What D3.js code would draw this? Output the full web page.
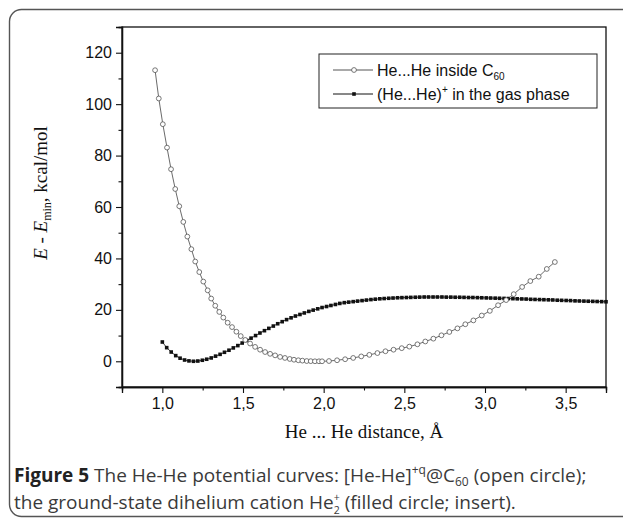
<!DOCTYPE html>
<html>
<head>
<meta charset="utf-8">
<script src="https://cdn.jsdelivr.net/npm/d3@7"></script>
<style>
  html, body { margin: 0; padding: 0; background: #fff; }
  svg { display: block; }
</style>
</head>
<body>
<svg id="chart" width="623" height="519"></svg>
<script>
// ---------------- data ----------------
const seriesNames = ["He...He inside C60", "(He...He)+ in the gas phase"];

// He...He inside C60 (open circles)
const insideX = [0.955, 0.978, 1.003, 1.029, 1.054, 1.080, 1.105, 1.130, 1.155, 1.180,
  1.204, 1.229, 1.254, 1.281, 1.303, 1.328, 1.353, 1.378, 1.405, 1.432,
  1.459, 1.486, 1.514, 1.544, 1.575, 1.606, 1.637, 1.668, 1.699, 1.730,
  1.760, 1.790, 1.816, 1.843, 1.868, 1.895, 1.920, 1.946, 1.971, 1.990,
  2.033, 2.083, 2.133, 2.183, 2.233, 2.283, 2.333, 2.383, 2.433, 2.484,
  2.531, 2.581, 2.630, 2.680, 2.730, 2.779, 2.829, 2.878, 2.928, 2.980,
  3.030, 3.081, 3.131, 3.178, 3.230, 3.281, 3.333, 3.383, 3.433];
const insideY = [113.2, 102.2, 92.2, 83.1, 74.7, 67.0, 60.3, 54.2, 48.5, 43.6,
  38.8, 34.7, 31.0, 27.6, 24.4, 21.6, 19.2, 17.0, 15.0, 13.3,
  11.5, 9.8, 8.3, 6.9, 5.6, 4.5, 3.6, 2.9, 2.3, 1.7,
  1.3, 0.9, 0.6, 0.4, 0.25, 0.1, 0.05, 0.0, 0.0, 0.0,
  0.1, 0.4, 0.8, 1.3, 1.9, 2.5, 3.2, 3.9, 4.5, 5.1,
  5.7, 6.6, 7.7, 8.8, 10.1, 11.4, 12.8, 14.4, 15.9, 17.8,
  19.6, 21.8, 23.8, 26.1, 28.9, 31.2, 32.9, 35.9, 38.6];

// (He...He)+ in the gas phase (filled squares)
const gasX = [1.000, 1.027, 1.055, 1.083, 1.110, 1.138, 1.165, 1.193, 1.220, 1.248,
  1.275, 1.303, 1.330, 1.358, 1.385, 1.413, 1.440, 1.468, 1.495, 1.523,
  1.550, 1.578, 1.605, 1.633, 1.660, 1.688, 1.715, 1.743, 1.770, 1.798,
  1.825, 1.853, 1.880, 1.908, 1.935, 1.963, 1.990, 2.018, 2.045, 2.073,
  2.100, 2.128, 2.155, 2.183, 2.210, 2.238, 2.265, 2.293, 2.320, 2.348,
  2.375, 2.403, 2.430, 2.458, 2.485, 2.513, 2.540, 2.568, 2.595, 2.623,
  2.650, 2.678, 2.705, 2.733, 2.760, 2.788, 2.815, 2.843, 2.870, 2.898,
  2.925, 2.953, 2.980, 3.008, 3.035, 3.063, 3.090, 3.118, 3.145, 3.173,
  3.200, 3.228, 3.255, 3.283, 3.310, 3.338, 3.365, 3.393, 3.420, 3.448,
  3.475, 3.503, 3.530, 3.558, 3.585, 3.613, 3.640, 3.668, 3.695, 3.723, 3.750];
const gasY = [7.5, 5.3, 3.6, 2.2, 1.2, 0.5, 0.15, 0.0, 0.1, 0.4,
  0.8, 1.3, 2.0, 2.7, 3.5, 4.3, 5.2, 6.1, 7.1, 8.1,
  9.0, 10.0, 11.0, 11.9, 12.8, 13.7, 14.6, 15.4, 16.2, 16.9,
  17.6, 18.2, 18.8, 19.4, 19.9, 20.4, 20.9, 21.3, 21.7, 22.1,
  22.5, 22.8, 23.0, 23.2, 23.4, 23.6, 23.8, 24.0, 24.15, 24.3,
  24.4, 24.5, 24.6, 24.7, 24.75, 24.8, 24.85, 24.9, 24.95, 25.0,
  25.0, 25.0, 25.0, 25.0, 24.95, 24.95, 24.9, 24.9, 24.85, 24.8,
  24.8, 24.75, 24.7, 24.65, 24.6, 24.55, 24.5, 24.45, 24.4, 24.35,
  24.3, 24.25, 24.2, 24.1, 24.05, 24.0, 23.95, 23.9, 23.85, 23.75,
  23.7, 23.65, 23.6, 23.5, 23.45, 23.4, 23.35, 23.3, 23.25, 23.2, 23.15];

const xTicks = [1.0, 1.5, 2.0, 2.5, 3.0, 3.5];
const xTickLabels = ["1,0", "1,5", "2,0", "2,5", "3,0", "3,5"];
const xMinorTicks = [0.75, 1.25, 1.75, 2.25, 2.75, 3.25, 3.75];
const yTicks = [0, 20, 40, 60, 80, 100, 120];
const yTickLabels = ["0", "20", "40", "60", "80", "100", "120"];
const yMinorTicks = [-10, 10, 30, 50, 70, 90, 110, 130];

// ---------------- layout ----------------
const svg = d3.select("#chart");
const plot = { left: 122, right: 606, top: 27, bottom: 387 };

const x = d3.scaleLinear().domain([0.75, 3.75]).range([plot.left, plot.right]);
const y = d3.scaleLinear().domain([-10, 130]).range([plot.bottom, plot.top]);

const axisFont = "'Liberation Sans', Arial, sans-serif";
const serifFont = "'Liberation Serif', 'Times New Roman', serif";
const capFont = "'Open Sans', 'Noto Sans', sans-serif";

// figure border
svg.append("rect")
  .attr("x", 9.5).attr("y", 9.5)
  .attr("width", 640).attr("height", 507)
  .attr("rx", 12).attr("ry", 12)
  .attr("fill", "none").attr("stroke", "#555").attr("stroke-width", 1.4);

// frame
svg.append("rect")
  .attr("x", plot.left).attr("y", plot.top)
  .attr("width", plot.right - plot.left).attr("height", plot.bottom - plot.top)
  .attr("fill", "none").attr("stroke", "#111").attr("stroke-width", 1.3);

// x axis
const xAxis = d3.axisBottom(x).tickValues(xTicks)
  .tickFormat((d, i) => xTickLabels[i]).tickSize(6).tickPadding(5);
svg.append("g").attr("transform", `translate(0,${plot.bottom})`).call(xAxis);
const xAxisMinor = d3.axisBottom(x).tickValues(xMinorTicks).tickFormat("").tickSize(3.5);
svg.append("g").attr("transform", `translate(0,${plot.bottom})`).call(xAxisMinor);

// y axis
const yAxis = d3.axisLeft(y).tickValues(yTicks)
  .tickFormat((d, i) => yTickLabels[i]).tickSize(6).tickPadding(4);
svg.append("g").attr("transform", `translate(${plot.left},0)`).call(yAxis);
const yAxisMinor = d3.axisLeft(y).tickValues(yMinorTicks).tickFormat("").tickSize(3.5);
svg.append("g").attr("transform", `translate(${plot.left},0)`).call(yAxisMinor);

svg.selectAll(".domain").attr("stroke", "#111").attr("stroke-width", 1.3);
svg.selectAll(".tick line").attr("stroke", "#111").attr("stroke-width", 1.1);
svg.selectAll(".tick text").attr("fill", "#111")
  .style("font-family", axisFont).style("font-size", "16px");

// axis titles
svg.append("text")
  .attr("x", (plot.left + plot.right) / 2).attr("y", 438)
  .attr("text-anchor", "middle")
  .style("font-family", serifFont).style("font-size", "19px").attr("fill", "#111")
  .text("He ... He distance, Å");

const yt = svg.append("text")
  .attr("transform", "translate(47,193) rotate(-90)")
  .attr("text-anchor", "middle")
  .style("font-family", serifFont).style("font-size", "19px").attr("fill", "#111");
yt.append("tspan").style("font-style", "italic").text("E");
yt.append("tspan").text(" - ");
yt.append("tspan").style("font-style", "italic").text("E");
yt.append("tspan").attr("dy", 4).style("font-size", "12px").text("min");
yt.append("tspan").attr("dy", -4).text(", kcal/mol");

// ---------------- series ----------------
const insideData = insideX.map((v, i) => [v, insideY[i]]);
const gasData = gasX.map((v, i) => [v, gasY[i]]);
const line = d3.line().x(d => x(d[0])).y(d => y(d[1]));

svg.append("path").datum(gasData).attr("d", line)
  .attr("fill", "none").attr("stroke", "#111").attr("stroke-width", 0.8);
svg.append("g").selectAll("rect").data(gasData).join("rect")
  .attr("x", d => x(d[0]) - 1.8).attr("y", d => y(d[1]) - 1.8)
  .attr("width", 3.6).attr("height", 3.6).attr("fill", "#111");

svg.append("path").datum(insideData).attr("d", line)
  .attr("fill", "none").attr("stroke", "#444").attr("stroke-width", 0.8);
svg.append("g").selectAll("circle").data(insideData).join("circle")
  .attr("cx", d => x(d[0])).attr("cy", d => y(d[1])).attr("r", 2.4)
  .attr("fill", "#fff").attr("stroke", "#555").attr("stroke-width", 0.8);

// ---------------- legend ----------------
const lg = svg.append("g");
lg.append("rect").attr("x", 319).attr("y", 54).attr("width", 278).attr("height", 54)
  .attr("fill", "#fff").attr("stroke", "#222").attr("stroke-width", 1);
const rows = [70, 94];
// row 1
lg.append("line").attr("x1", 333).attr("x2", 373).attr("y1", rows[0]).attr("y2", rows[0])
  .attr("stroke", "#555").attr("stroke-width", 1);
lg.append("circle").attr("cx", 354).attr("cy", rows[0]).attr("r", 2.4)
  .attr("fill", "#fff").attr("stroke", "#555").attr("stroke-width", 0.8);
const t1 = lg.append("text").attr("x", 377).attr("y", rows[0] + 6)
  .style("font-family", axisFont).style("font-size", "16px").attr("fill", "#111");
t1.append("tspan").text("He...He inside C");
t1.append("tspan").attr("dy", 4).style("font-size", "10px").text("60");
// row 2
lg.append("line").attr("x1", 333).attr("x2", 373).attr("y1", rows[1]).attr("y2", rows[1])
  .attr("stroke", "#111").attr("stroke-width", 1);
lg.append("rect").attr("x", 354 - 1.8).attr("y", rows[1] - 1.8).attr("width", 3.6).attr("height", 3.6)
  .attr("fill", "#111");
const t2 = lg.append("text").attr("x", 377).attr("y", rows[1] + 6)
  .style("font-family", axisFont).style("font-size", "16px").attr("fill", "#111");
t2.append("tspan").text("(He...He)");
t2.append("tspan").attr("dy", -7).style("font-size", "10px").text("+");
t2.append("tspan").attr("dy", 7).text(" in the gas phase");

// ---------------- caption ----------------
const c1 = svg.append("text").attr("x", 14).attr("y", 482)
  .style("font-family", capFont).style("font-size", "19px").attr("fill", "#3a3a3a");
c1.append("tspan").style("font-weight", "bold").attr("fill", "#222").text("Figure 5");
c1.append("tspan").text(" The He-He potential curves: [He-He]");
c1.append("tspan").attr("dy", -8).style("font-size", "12px").text("+q");
c1.append("tspan").attr("dy", 8).text("@C");
c1.append("tspan").attr("dy", 4).style("font-size", "12px").text("60");
c1.append("tspan").attr("dy", -4).text(" (open circle);");

const c2 = svg.append("text").attr("x", 14).attr("y", 508.5)
  .style("font-family", capFont).style("font-size", "19px").attr("fill", "#3a3a3a");
c2.append("tspan").text("the ground-state dihelium cation He");
c2.append("tspan").attr("dy", 5).style("font-size", "10.5px").text("2");
c2.append("tspan").attr("dx", -6).attr("dy", -13).style("font-size", "10.5px").text("+");
c2.append("tspan").attr("dy", 8).text(" (filled circle; insert).");
</script>
</body>
</html>
